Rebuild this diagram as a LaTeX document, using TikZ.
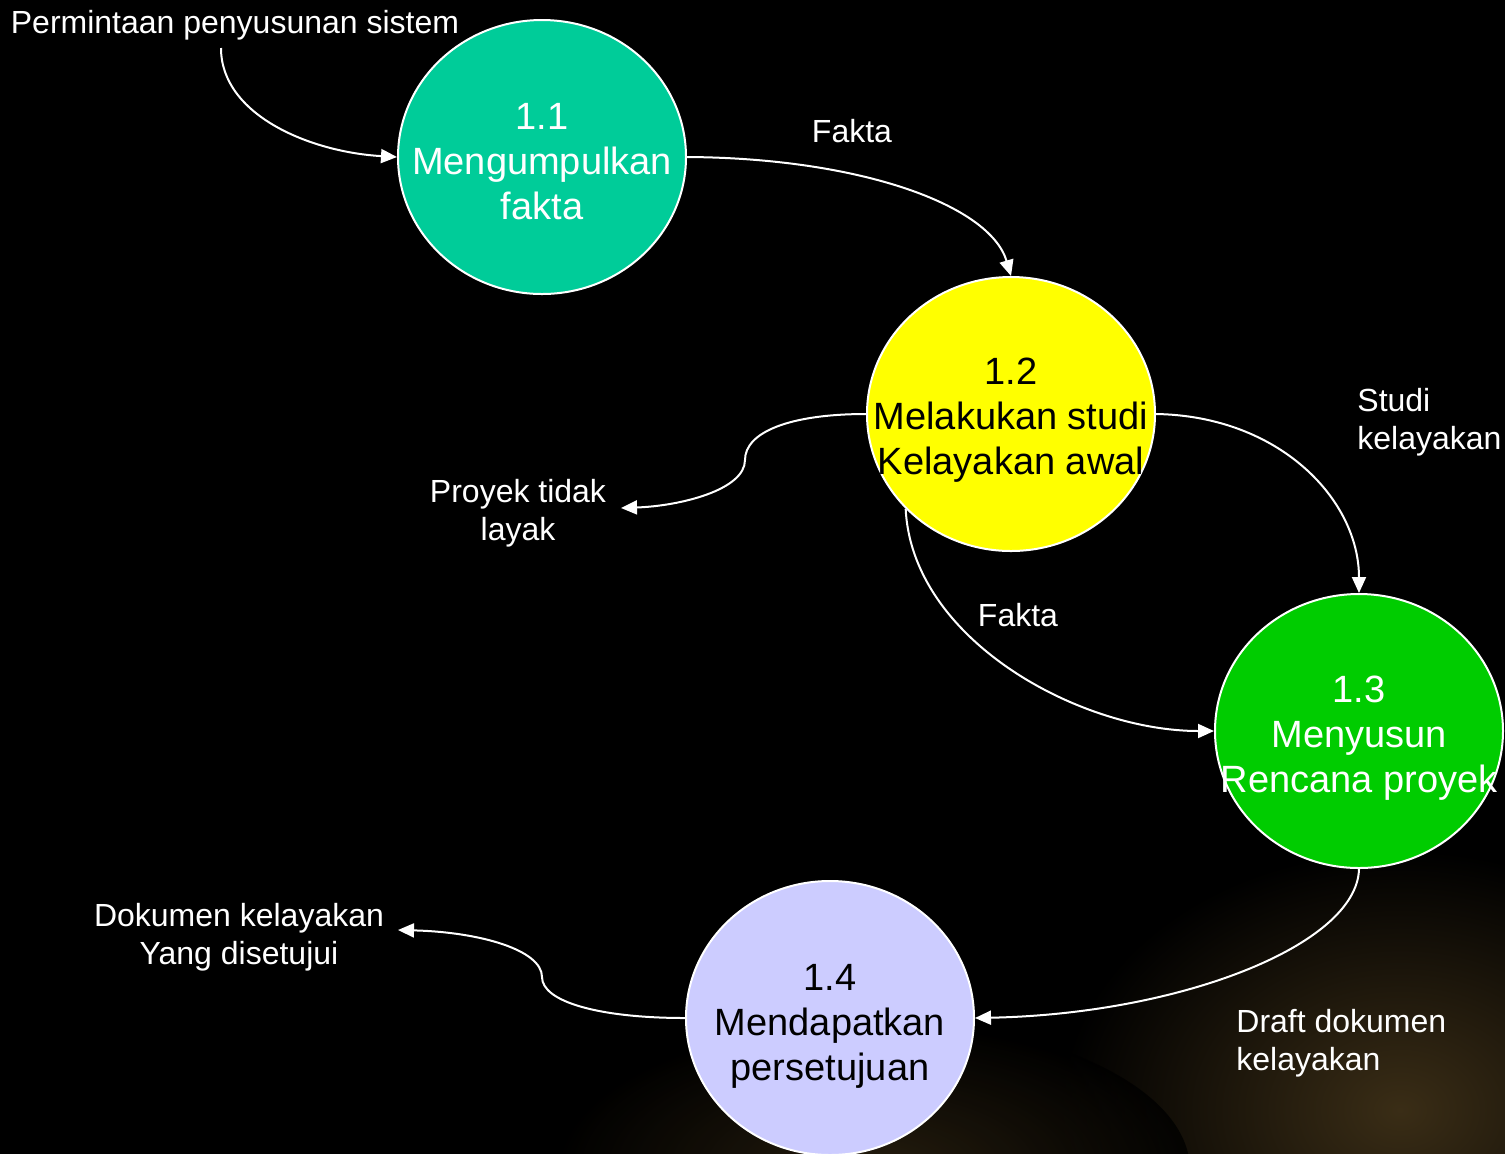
\documentclass[tikz,border=0pt]{standalone}
\usepackage{fontspec}
\setmainfont{Liberation Sans}
\usetikzlibrary{shapes.geometric,arrows.meta}

\definecolor{proctealc}{HTML}{00CC99}
\definecolor{procyellowc}{HTML}{FFFF00}
\definecolor{procgreenc}{HTML}{00CC00}
\definecolor{proclavc}{HTML}{CCCCFF}
\definecolor{photobrown}{HTML}{3A2D16}

\tikzset{
  proc/.style={ellipse, draw=white, line width=1pt, minimum width=144pt, minimum height=137pt, inner sep=0pt},
  proctext/.style={align=center, font=\fontsize{19}{22.5}\selectfont, inner sep=0pt},
  flowlabel/.style={text=white, font=\fontsize{16}{19}\selectfont, inner sep=0pt},
  flow/.style={draw=white, line width=1pt, -{Triangle[length=8pt, width=7pt]}}
}

\begin{document}
\begin{tikzpicture}[x=0.5pt, y=-0.5pt]
  % page and background (the black fill overshoots the page on every side)
  \useasboundingbox (0,0) rectangle (1505,1153);
  \fill[black] (-10,-10) rectangle (1515,1163);
  \clip (-10,-10) rectangle (1515,1163);

  % dim photograph in the lower part of the background
  \shade[inner color=photobrown, outer color=black] (1400,1110) ellipse (340 and 260);
  \shade[inner color=photobrown!80!black, outer color=black, opacity=0.8] (870,1170) ellipse (320 and 150);

  % processes
  \node[proc, fill=proctealc]   (p1) at (542,157)  {};
  \node[proc, fill=procyellowc] (p2) at (1011,414) {};
  \node[proc, fill=procgreenc]  (p3) at (1359,731) {};
  \node[proc, fill=proclavc]    (p4) at (830,1018) {};

  \node[proctext, text=white] (t1) at (542,162)  {1.1\\Mengumpulkan\\fakta};
  \node[proctext, text=black] (t2) at (1011,420) {1.2\\Melakukan studi\\Kelayakan awal};
  \node[proctext, text=white] (t3) at (1359,738) {1.3\\Menyusun\\Rencana proyek};
  \node[proctext, text=black] (t4) at (830,1026) {1.4\\Mendapatkan\\persetujuan};

  % flow labels
  \node[flowlabel] (lperm) at (235,25) {Permintaan penyusunan sistem};
  \node[flowlabel] (lfakta1) at (852,131) {Fakta};
  \node[flowlabel, align=center] (ltidak) at (518,513) {Proyek tidak\\layak};
  \node[flowlabel, align=left, anchor=west] (lstudi) at (1357,422) {Studi\\kelayakan};
  \node[flowlabel] (lfakta2) at (1018,615) {Fakta};
  \node[flowlabel, align=left, anchor=west] (ldraft) at (1236,1043) {Draft dokumen\\kelayakan};
  \node[flowlabel, align=center] (ldok) at (239,937) {Dokumen kelayakan\\Yang disetujui};

  % free ends of the flows
  \coordinate (permout) at (221,48);
  \coordinate (tidakin) at (621,508);
  \coordinate (dokin) at (398,930);

  % flows
  \draw[flow] (permout) .. controls (221,115) and (310,152) .. (p1.west);
  \draw[flow] (p1.east) .. controls (860,158) and (990,205) .. (p2.north);
  \draw[flow] (p2.west) .. controls (790,414) and (745,432) .. (745,460)
                        .. controls (745,490) and (680,506) .. (tidakin);
  \draw[flow] (p2.east) .. controls (1280,416) and (1359,500) .. (p3.north);
  \draw[flow] (p2.222) .. controls (912,640) and (1080,731) .. (p3.west);
  \draw[flow] (p3.south) .. controls (1357,945) and (1180,1014) .. (p4.east);
  \draw[flow] (p4.west) .. controls (600,1018) and (542,1002) .. (542,977)
                        .. controls (542,950) and (480,932) .. (dokin);
\end{tikzpicture}
\end{document}
